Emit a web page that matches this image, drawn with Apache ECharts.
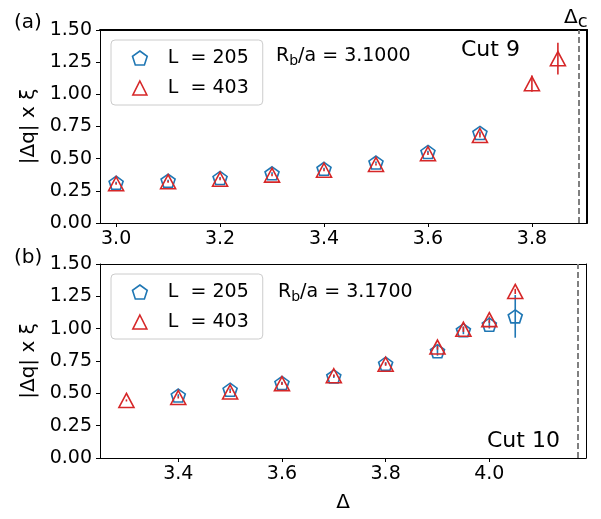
<!DOCTYPE html>
<html>
<head>
<meta charset="utf-8">
<script src="https://cdn.jsdelivr.net/npm/echarts@6/dist/echarts.min.js"></script>
<style>
  html, body { margin: 0; padding: 0; background: #fff; }
  #chart { width: 601px; height: 519px; }
</style>
</head>
<body>
<div id="chart"></div>
<script>
// panel (a): cut 9, Rb/a = 3.1000
const xA205 = [3.0, 3.1, 3.2, 3.3, 3.4, 3.5, 3.6, 3.7]
const yA205 = [0.313, 0.329, 0.350, 0.386, 0.421, 0.470, 0.552, 0.700]
const eA205 = [0.008, 0.008, 0.008, 0.008, 0.008, 0.008, 0.010, 0.012]
const xA403 = [3.0, 3.1, 3.2, 3.3, 3.4, 3.5, 3.6, 3.7, 3.8, 3.85]
const yA403 = [0.305, 0.321, 0.340, 0.372, 0.410, 0.455, 0.538, 0.680, 1.083, 1.277]
const eA403 = [0.008, 0.008, 0.008, 0.008, 0.008, 0.008, 0.010, 0.015, 0.063, 0.123]
const deltaCA = 3.887
const ticksA = [3.0, 3.2, 3.4, 3.6, 3.8]

// panel (b): cut 10, Rb/a = 3.1700
const xB205 = [3.4, 3.5, 3.6, 3.7, 3.8, 3.9, 3.95, 4.0, 4.05]
const yB205 = [0.483, 0.528, 0.580, 0.631, 0.729, 0.826, 0.987, 1.031, 1.095]
const eB205 = [0.010, 0.010, 0.010, 0.012, 0.012, 0.035, 0.030, 0.030, 0.165]
const xB403 = [3.3, 3.4, 3.5, 3.6, 3.7, 3.8, 3.9, 3.95, 4.0, 4.05]
const yB403 = [0.445, 0.468, 0.511, 0.575, 0.636, 0.725, 0.858, 0.995, 1.070, 1.288]
const eB403 = [0.008, 0.008, 0.008, 0.010, 0.010, 0.012, 0.020, 0.020, 0.025, 0.020]
const deltaCB = 4.17
const ticksB = [3.4, 3.6, 3.8, 4.0]

const yTicks = [0, 0.25, 0.5, 0.75, 1.0, 1.25, 1.5]

const BLUE = '#1f77b4'
const RED = '#d62728'
const FONT = 'DejaVu Sans'
const PENTAGON = 'path://M0,-1L0.951,-0.309L0.588,0.809L-0.588,0.809L-0.951,-0.309Z'
const TRIANGLE = 'path://M0,-1L1,1L-1,1Z'
const NAME205 = 'L  = 205'
const NAME403 = 'L  = 403'

const myChart = echarts.init(document.getElementById('chart'), null, { renderer: 'canvas' })

function points (xs, ys) {
  return xs.map((x, i) => [x, ys[i]])
}
function bars (xs, ys, es) {
  return xs.map((x, i) => [x, ys[i] - es[i], ys[i] + es[i]])
}
function errSeries (gi, data, color) {
  return {
    type: 'custom',
    xAxisIndex: gi * 2,
    yAxisIndex: gi * 2,
    data: data,
    encode: { x: 0, y: [1, 2] },
    silent: true,
    renderItem: (params, api) => {
      const p1 = api.coord([api.value(0), api.value(1)])
      const p2 = api.coord([api.value(0), api.value(2)])
      return {
        type: 'line',
        shape: { x1: p1[0], y1: p1[1], x2: p2[0], y2: p2[1] },
        style: { stroke: color, lineWidth: 1.6 }
      }
    }
  }
}
function markSeries (gi, name, data, symbol, color, cut) {
  const s = {
    type: 'scatter',
    name: name,
    xAxisIndex: gi * 2,
    yAxisIndex: gi * 2,
    data: data,
    symbol: symbol,
    symbolSize: symbol === TRIANGLE ? [15, 14] : [14, 13],
    itemStyle: { color: 'none', borderColor: color, borderWidth: 1.6, opacity: 1 },
    silent: true
  }
  if (cut !== undefined) {
    s.markLine = {
      silent: true,
      symbol: 'none',
      label: { show: false },
      lineStyle: { color: '#808080', type: [6, 3], width: 2 },
      data: [{ xAxis: cut }]
    }
  }
  return s
}

function xAxisMain (gi, min, max, ticks, withName) {
  return {
    type: 'value',
    gridIndex: gi,
    min: min,
    max: max,
    position: 'bottom',
    splitLine: { show: false },
    axisLine: { show: true, onZero: false, lineStyle: { color: '#000', width: 1 } },
    axisTick: { show: true, length: 4, customValues: ticks, lineStyle: { color: '#000', width: 1 } },
    axisLabel: {
      customValues: ticks,
      formatter: v => v.toFixed(1),
      fontFamily: FONT, fontSize: 19, color: '#000', margin: 7
    },
    name: withName ? 'Δ' : '',
    nameLocation: 'middle',
    nameGap: 35,
    nameTextStyle: { fontFamily: FONT, fontSize: 20, color: '#000' }
  }
}
function xAxisFrame (gi, min, max, w) {
  return {
    type: 'value', gridIndex: gi, min: min, max: max, position: 'top',
    splitLine: { show: false },
    axisLine: { show: true, onZero: false, lineStyle: { color: '#000', width: w } },
    axisTick: { show: false }, axisLabel: { show: false }
  }
}
function yAxisMain (gi) {
  return {
    type: 'value', gridIndex: gi, min: 0, max: 1.5, position: 'left',
    splitLine: { show: false },
    axisLine: { show: true, onZero: false, lineStyle: { color: '#000', width: 1 } },
    axisTick: { show: true, length: 4, customValues: yTicks, lineStyle: { color: '#000', width: 1 } },
    axisLabel: {
      customValues: yTicks,
      formatter: v => v.toFixed(2),
      fontFamily: FONT, fontSize: 19, color: '#000', margin: 8
    },
    name: '|Δq| x ξ',
    nameLocation: 'middle',
    nameGap: 60,
    nameTextStyle: { fontFamily: FONT, fontSize: 20, color: '#000' }
  }
}
function yAxisFrame (gi, w) {
  return {
    type: 'value', gridIndex: gi, min: 0, max: 1.5, position: 'right',
    splitLine: { show: false },
    axisLine: { show: true, onZero: false, lineStyle: { color: '#000', width: w } },
    axisTick: { show: false }, axisLabel: { show: false }
  }
}
function legendAt (top) {
  return {
    orient: 'vertical',
    left: 111,
    top: top,
    itemWidth: 46,
    itemHeight: 14,
    itemGap: 10,
    padding: [8, 14, 7, 19],
    borderColor: '#cccccc',
    borderWidth: 1,
    borderRadius: 4,
    backgroundColor: 'rgba(255,255,255,0.8)',
    selectedMode: false,
    textStyle: { fontFamily: FONT, fontSize: 19, color: '#000', lineHeight: 20 },
    data: [
      { name: NAME205, icon: PENTAGON, itemStyle: { color: 'none', borderColor: BLUE, borderWidth: 1.6 } },
      { name: NAME403, icon: TRIANGLE, itemStyle: { color: 'none', borderColor: RED, borderWidth: 1.6 } }
    ]
  }
}
function txt (x, y, text, size, align) {
  return {
    type: 'text', x: x, y: y, silent: true,
    style: {
      text: text, fill: '#000', font: size + 'px "' + FONT + '"',
      textAlign: align || 'left', textVerticalAlign: 'middle'
    }
  }
}
function richTxt (x, y, text, sub, rest) {
  return {
    type: 'text', x: x, y: y, silent: true,
    style: {
      text: '{m|' + text + '}{s|' + sub + '}{m|' + rest + '}',
      textVerticalAlign: 'middle',
      rich: {
        m: { fontFamily: FONT, fontSize: 19, lineHeight: 24, color: '#000' },
        s: { fontFamily: FONT, fontSize: 14, lineHeight: 14, color: '#000', verticalAlign: 'bottom' }
      }
    }
  }
}

const option = {
  animation: false,
  backgroundColor: '#fff',
  grid: [
    { left: 100, top: 30, width: 487, height: 193 },
    { left: 100, top: 264, width: 486, height: 194 }
  ],
  xAxis: [
    xAxisMain(0, 2.969, 3.906, ticksA, false),
    xAxisFrame(0, 2.969, 3.906, 2),
    xAxisMain(1, 3.249, 4.1865, ticksB, true),
    xAxisFrame(1, 3.249, 4.1865, 1)
  ],
  yAxis: [
    yAxisMain(0),
    yAxisFrame(0, 2),
    yAxisMain(1),
    yAxisFrame(1, 1)
  ],
  legend: [legendAt(40), legendAt(274)],
  series: [
    errSeries(0, bars(xA205, yA205, eA205), BLUE),
    markSeries(0, NAME205, points(xA205, yA205), PENTAGON, BLUE, deltaCA),
    errSeries(0, bars(xA403, yA403, eA403), RED),
    markSeries(0, NAME403, points(xA403, yA403), TRIANGLE, RED),
    errSeries(1, bars(xB205, yB205, eB205), BLUE),
    markSeries(1, NAME205, points(xB205, yB205), PENTAGON, BLUE, deltaCB),
    errSeries(1, bars(xB403, yB403, eB403), RED),
    markSeries(1, NAME403, points(xB403, yB403), TRIANGLE, RED)
  ],
  graphic: [
    txt(14, 23, '(a)', 20),
    txt(14, 258, '(b)', 20),
    richTxt(276, 56, 'R', 'b', '/a = 3.1000'),
    richTxt(278, 292, 'R', 'b', '/a = 3.1700'),
    txt(461, 50, 'Cut 9', 22),
    txt(487, 441, 'Cut 10', 22),
    {
      type: 'text', x: 564, y: 18, silent: true,
      style: {
        text: '{m|Δ}{s|c}',
        textVerticalAlign: 'middle',
        rich: {
          m: { fontFamily: FONT, fontSize: 20, lineHeight: 26, color: '#000' },
          s: { fontFamily: FONT, fontSize: 18, lineHeight: 16, color: '#000', verticalAlign: 'bottom' }
        }
      }
    }
  ]
}

myChart.setOption(option)
window.addEventListener('resize', () => {
  myChart.resize()
})
</script>
</body>
</html>
